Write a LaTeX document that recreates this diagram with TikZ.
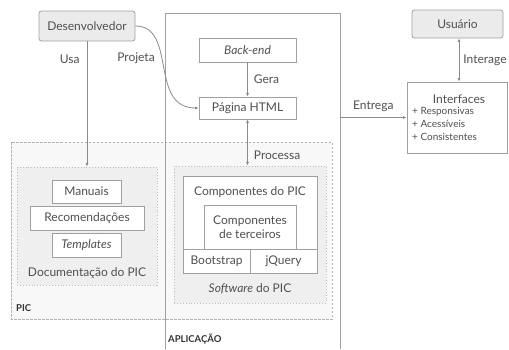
\documentclass[tikz,border=0pt]{standalone}
\usepackage{fontspec}
\setmainfont{Lato}
\usepackage{tikz}
\usetikzlibrary{arrows.meta}
\usetikzlibrary{calc}
\definecolor{txt}{HTML}{505050}
\definecolor{ln}{HTML}{8A8A8A}
\definecolor{bd}{HTML}{A0A0A0}
\definecolor{grpfill}{HTML}{EFEFEF}
\definecolor{picfill}{HTML}{F8F8F8}
\definecolor{topfill}{HTML}{EBEBEB}
\tikzset{
	every node/.style={text=txt, font=\fontsize{12}{14}\selectfont, inner sep=0pt},
	box/.style={draw=bd, fill=white, line width=0.8pt, minimum width=#1},
	box/.default=69pt,
	topbox/.style={draw=bd, fill=topfill, line width=0.8pt, rounded corners=2.5pt},
	grp/.style={draw=bd!70, fill=grpfill, dotted, line width=0.9pt},
	conn/.style={draw=ln, line width=0.8pt},
	tip/.style={-{Latex[length=3.5pt,width=3pt]}},
	both/.style={{Latex[length=3.5pt,width=3pt]}-{Latex[length=3.5pt,width=3pt]}},
	small/.style={font=\fontsize{10}{12.8}\selectfont},
	tag/.style={text=black!80, font=\bfseries\fontsize{9.5}{11}\selectfont}
}
\begin{document}
\begin{tikzpicture}[x=1pt, y=-1pt]
			\useasboundingbox (0,0) rectangle (509,349);
			\fill[picfill] (11,142) rectangle (332,319);
			\draw[bd!80, dashed, line width=0.9pt, dash pattern=on 2.5pt off 1.5pt] (11,142) rectangle (332,319);
			\draw[bd, line width=0.8pt] (165,349) -- (165,13) -- (340,13) -- (340,349);
			\coordinate (e) at (340,117.5);
			\node[topbox, minimum width=96pt, minimum height=30pt] (a) at (87,26) {Desenvolvedor};
			\node[topbox, minimum width=91pt, minimum height=28pt] (u) at (457.5,24) {Usuário};
			\node[box=97pt, minimum height=24pt] (b) at (247.5,50) {\itshape Back-end};
			\node[box=97pt, minimum height=22pt] (h) at (247.5,108) {Página HTML};
			\node[box=100pt, minimum height=71pt] (i) at (457,117.5) {};
			\node (it) at (459,99) {Interfaces};
			\node[small, anchor=north west, align=left] (il) at (412,107) {+ Responsivas\\+ Acessíveis\\+ Consistentes};
			\node[grp, minimum width=140pt, minimum height=118pt] (d) at (87,226) {};
			\node[box=69pt, minimum height=23pt] (m) at (86.5,191.5) {Manuais};
			\node[box=114pt, minimum height=24pt] (r) at (87,218) {Recomendações};
			\node[box=69pt, minimum height=24pt] (t) at (86.5,245) {\itshape Templates};
			\node (dl) at (87,273) {Documentação do PIC};
			\node[grp, minimum width=152pt, minimum height=137pt] (s) at (250,234.5) {};
			\node[box=134pt, minimum height=97pt] (c) at (250,224.5) {};
			\node (cl) at (250,192) {Componentes do PIC};
			\node[box=92pt, minimum height=44pt, align=center] (k) at (250,227) {Componentes\\de terceiros};
			\node[box=67pt, minimum height=24pt] (bs) at (216.5,261) {Bootstrap};
			\node[box=67pt, minimum height=24pt] (jq) at (283.5,261) {jQuery};
			\node (sl) at (250,289) {\itshape Software\upshape{} do PIC};
			\node[tag, anchor=west] (p) at (16,308) {PIC};
			\node[tag, anchor=west] (ap) at (168,339) {APLICAÇÃO};
			\draw[conn, tip] (a.south) -- (d.north) node[pos=0.14, left=7pt] {Usa};
			\draw[conn, tip] (a.east) .. controls +(42,0) and +(-50,0) .. (h.west);
			\node (pj) at (136,58) {Projeta};
			\draw[conn, tip] (b.south) -- (h.north) node[midway, right=6pt] {Gera};
			\draw[conn, both] (h.south) -- (h.south |- s.north) node[pos=0.78, right=6pt] {Processa};
			\draw[conn, tip] (e) -- (i.west) node[midway, above=5pt] {Entrega};
			\draw[conn, both] (u.south -| it) -- (i.north -| it) node[midway, right=4pt] {Interage};
		\end{tikzpicture}
\end{document}
